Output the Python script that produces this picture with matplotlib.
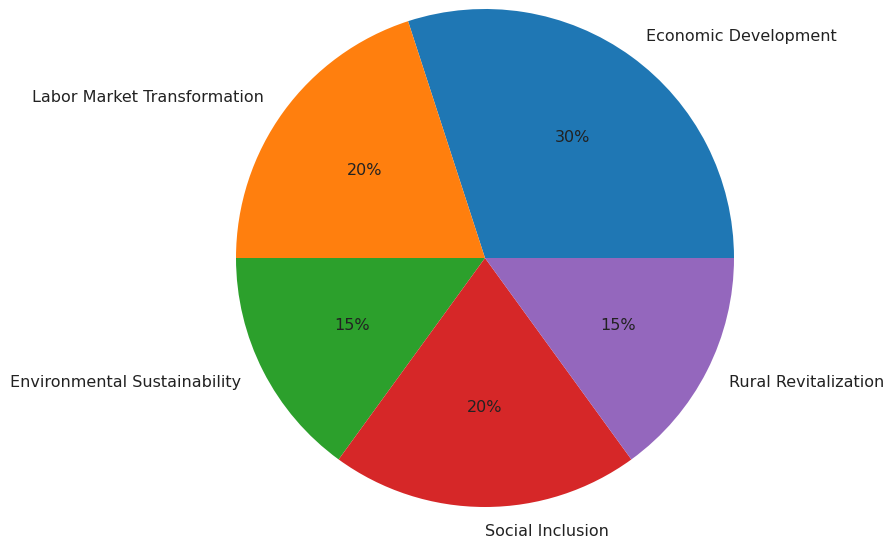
import matplotlib
matplotlib.use("Agg")
import matplotlib.pyplot as plt

labels = ["Economic Development", "Labor Market Transformation",
          "Environmental Sustainability", "Social Inclusion",
          "Rural Revitalization"]
shares = [30, 20, 15, 20, 15]


def main():
    fig = plt.figure(figsize=(8.85, 5.43), dpi=100)
    ax = fig.add_axes([0, 0, 1, 1])
    ax.pie(shares, labels=labels, autopct="%1.0f%%",
           textprops={"fontsize": 11.5, "color": "#222222"})
    # pie centre at (485, 258) px, radius ~249 px
    r = 249.0
    ax.set_aspect("auto")
    ax.set_xlim(-485 / r, (885 - 485) / r)
    ax.set_ylim(-(543 - 258) / r, 258 / r)
    ax.axis("off")
    fig.savefig("out.png", dpi=100)


if __name__ == "__main__":
    main()
